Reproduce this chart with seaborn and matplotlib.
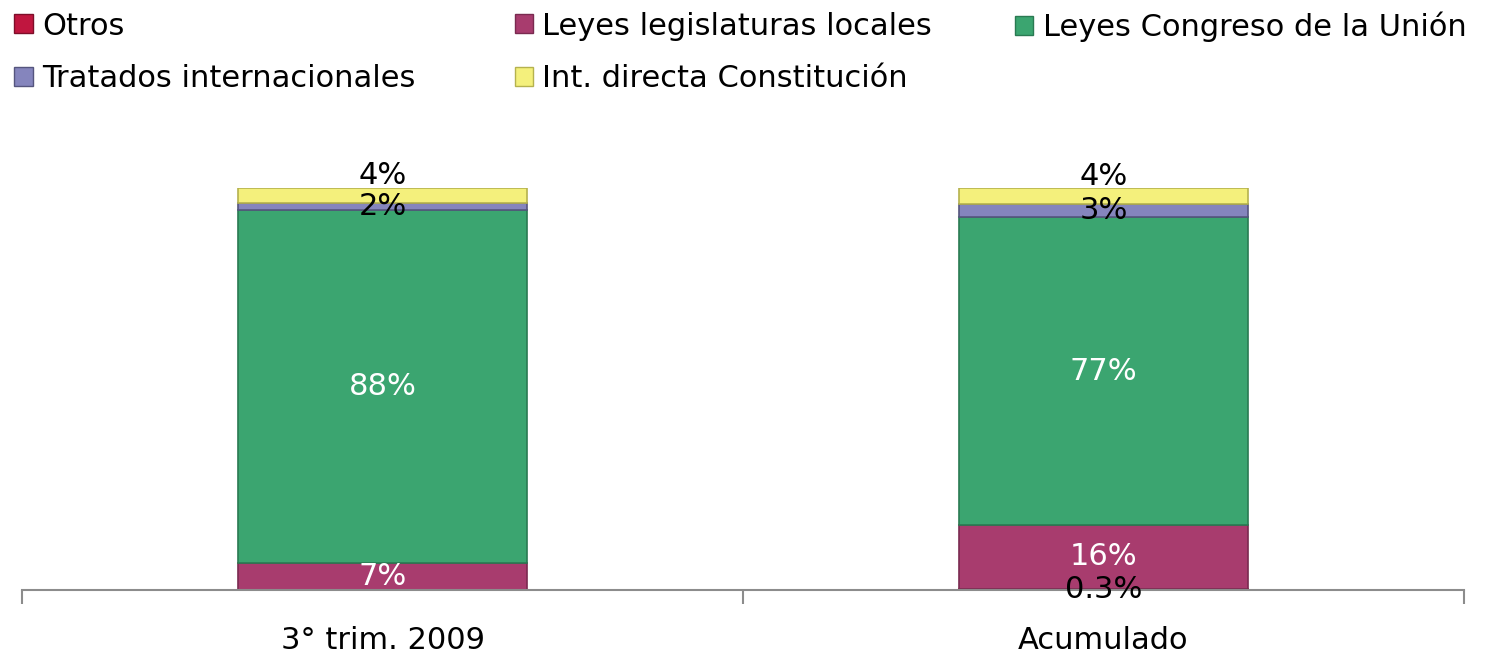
import pandas as pd
import matplotlib
matplotlib.use("Agg")
import matplotlib.pyplot as plt
import seaborn as sns
from matplotlib.patches import Patch

# data (percent of total)
periods = ["3° trim. 2009", "Acumulado"]
series = ["Otros", "Leyes legislaturas locales", "Leyes Congreso de la Unión",
          "Tratados internacionales", "Int. directa Constitución"]
otros = [0.0, 0.3]
leyes_locales = [6.8, 15.9]
leyes_congreso = [87.7, 76.5]
tratados = [1.8, 3.3]
int_directa = [3.7, 4.0]
labels_otros = ["", "0.3%"]
labels_locales = ["7%", "16%"]
labels_congreso = ["88%", "77%"]
labels_tratados = ["2%", "3%"]
labels_int = ["4%", "4%"]

colors = ["#C0163F", "#A83C6E", "#3BA570", "#8585BD", "#F4F07C"]
edges = ["#7E0E29", "#7A2A50", "#2A7A52", "#55557E", "#B5B24E"]
label_colors = ["black", "white", "white", "black", "black"]

values = [otros, leyes_locales, leyes_congreso, tratados, int_directa]
texts = [labels_otros, labels_locales, labels_congreso, labels_tratados, labels_int]

rows = []
for s, vals in zip(series, values):
    for p, v in zip(periods, vals):
        rows.append({"periodo": p, "serie": s, "valor": v})
df = pd.DataFrame(rows)

sns.set_style("white")
plt.rcParams["font.family"] = ["DejaVu Sans"]
plt.rcParams["text.color"] = "black"

fig = plt.figure(figsize=(14.89, 6.57), dpi=100)
ax = fig.add_axes([0.0148, 0.102, 0.9684, 0.612])

bottom = [0.0, 0.0]
for i, s in enumerate(series):
    sub = df[df["serie"] == s]
    sns.barplot(data=sub, x="periodo", y="valor", order=periods, ax=ax,
                color=colors[i], saturation=1, width=0.4, bottom=bottom,
                edgecolor=edges[i], linewidth=1.2, errorbar=None)
    for j, p in enumerate(periods):
        v = sub["valor"].iloc[j]
        y = bottom[j] + v / 2
        dy = 14 if s == "Int. directa Constitución" else 0
        if texts[i][j]:
            ax.annotate(texts[i][j], (j, y), xytext=(0, dy), textcoords="offset points",
                        ha="center", va="center", fontsize=22,
                        color=label_colors[i], annotation_clip=False)
    bottom = [b + v for b, v in zip(bottom, sub["valor"].tolist())]

ax.set_xlim(-0.5, 1.5)
ax.set_ylim(0, 100)
ax.set_xlabel("")
ax.set_ylabel("")
ax.set_yticks([])
for side in ["left", "right", "top"]:
    ax.spines[side].set_visible(False)
ax.spines["bottom"].set_color("#8C8C8C")
ax.spines["bottom"].set_linewidth(1.5)
ax.set_xticks([-0.5, 0.5, 1.5], minor=True)
ax.tick_params(axis="x", which="minor", bottom=True, length=10, width=1.5,
               color="#8C8C8C", direction="out")
ax.tick_params(axis="x", which="major", length=0, pad=26, labelsize=22,
               labelcolor="black")

handles = [Patch(facecolor=c, edgecolor=e) for c, e in zip(colors, edges)]
# one legend per column so the columns sit where the reference has them
columns = [([0, 3], 0.0015), ([1, 4], 0.3375), ([2], 0.6735)]
for idx, x0 in columns:
    fig.legend([handles[k] for k in idx], [series[k] for k in idx],
               loc="upper left", bbox_to_anchor=(x0, 1.001), frameon=False,
               fontsize=22, handlelength=0.6, handleheight=0.6, handletextpad=0.3,
               labelspacing=0.78, borderaxespad=0.0, labelcolor="black")

fig.savefig("out.png", dpi=100)
